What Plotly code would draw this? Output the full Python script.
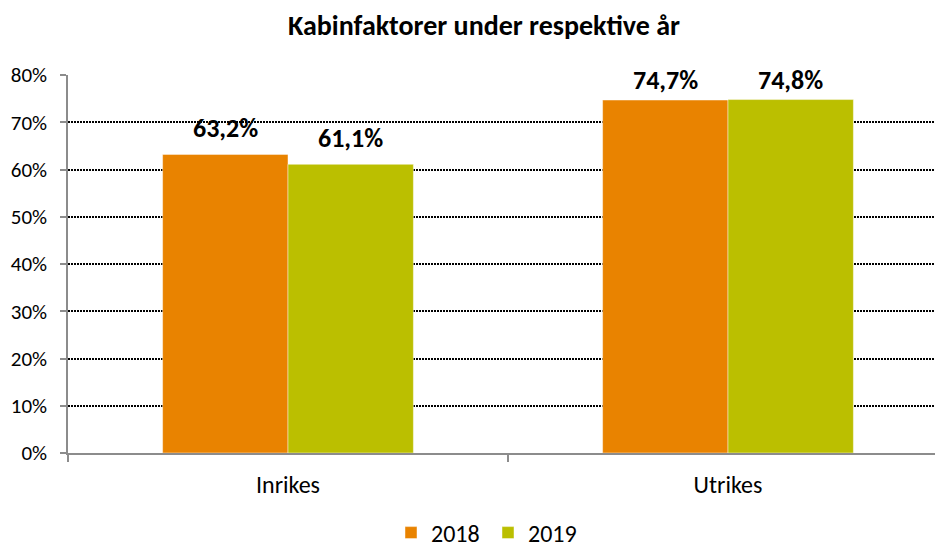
import plotly.graph_objects as go

categories = ["Inrikes", "Utrikes"]
years = ["2018", "2019"]
values_2018 = [63.2, 74.7]
values_2019 = [61.1, 74.8]
y_ticks = [0, 10, 20, 30, 40, 50, 60, 70, 80]
y_tick_labels = ["0%", "10%", "20%", "30%", "40%", "50%", "60%", "70%", "80%"]

FONT = "Carlito, Calibri, Lato, sans-serif"
colors = {"2018": "#E98300", "2019": "#BBBF00"}
series = {"2018": values_2018, "2019": values_2019}

W, H = 940, 550
BARGAP = 0.43
fig = go.Figure()
for yr in years:
    fig.add_trace(go.Bar(
        x=categories, y=series[yr], name=yr,
        marker=dict(color=colors[yr], line=dict(color="rgba(255,255,255,0.45)", width=1)),
    ))

# data labels above bars
bw = (1 - BARGAP) / 2
for k, yr in enumerate(years):
    off = (k - 0.5) * bw
    for i, v in enumerate(series[yr]):
        fig.add_annotation(
            x=i + off, y=min(v + 5.5, 79), xref="x", yref="y",
            text="<b>" + f"{v:.1f}".replace(".", ",") + "%</b>",
            showarrow=False, yanchor="middle", xanchor="center",
            font=dict(family=FONT, size=26, color="#000000"),
        )

fig.update_layout(
    width=W, height=H,
    margin=dict(l=60, r=0, t=67, b=105, autoexpand=False),
    paper_bgcolor="white", plot_bgcolor="white",
    barmode="group", bargap=BARGAP, bargroupgap=0,
    title=dict(text="<b>Kabinfaktorer under respektive år</b>",
               x=476 / W, xanchor="center", y=1 - 17 / H, yanchor="middle",
               xref="container", yref="container",
               font=dict(family=FONT, size=28, color="#000000")),
    font=dict(family=FONT, size=20, color="#000000"),
    showlegend=True,
    legend=dict(orientation="h", x=480 / W, xanchor="center", y=1 - 525 / H, yanchor="middle",
                xref="container", yref="container",
                font=dict(family=FONT, size=24, color="#000000"),
                itemwidth=30, entrywidth=52, traceorder="normal"),
)
fig.update_xaxes(
    type="category", range=[-0.5, 1.5], automargin=False,
    showline=True, linecolor="#8C8C8C", linewidth=1.5,
    ticks="outside", tickson="boundaries", ticklen=7, tickcolor="#8C8C8C", tickwidth=1.5,
    showgrid=False, ticklabelstandoff=9,
    tickfont=dict(family=FONT, size=24, color="#000000"),
)
fig.update_yaxes(
    range=[0, 80], tickmode="array", tickvals=y_ticks, ticktext=y_tick_labels,
    automargin=False,
    showline=True, linecolor="#8C8C8C", linewidth=1.5,
    ticks="outside", ticklen=6, tickcolor="#8C8C8C", tickwidth=1.5,
    showgrid=True, gridcolor="#000000", gridwidth=1.5, griddash="1.5px,1.5px",
    zeroline=False, ticklabelstandoff=9,
    tickfont=dict(family=FONT, size=21, color="#000000"),
)

fig.write_html("out.html")
